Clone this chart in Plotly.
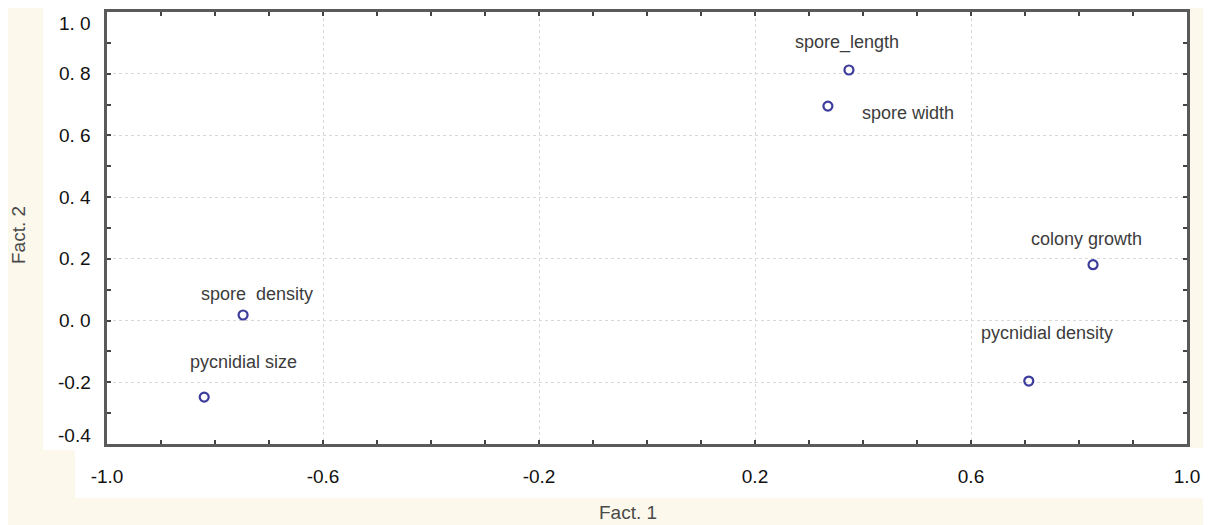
import plotly.graph_objects as go

# ---- data ----
variables = ["spore_length", "spore width", "colony growth",
             "pycnidial density", "spore  density", "pycnidial size"]
fact1 = [0.374, 0.335, 0.826, 0.707, -0.748, -0.820]
fact2 = [0.812, 0.695, 0.181, -0.196, 0.018, -0.248]

x_tickvals = [-1.0, -0.6, -0.2, 0.2, 0.6, 1.0]
x_ticktext = ["-1.0", "-0.6", "-0.2", "0.2", "0.6", "1.0"]
y_tickvals = [1.0, 0.8, 0.6, 0.4, 0.2, 0.0, -0.2, -0.4]
y_ticktext = ["1. 0", "0. 8", "0. 6", "0. 4", "0. 2", "0. 0", "-0.2", "-0.4"]

# label offsets in pixels (layout only)
label_dx = [-2, 80, -7, 18, 14, 39]
label_dy = [28, -7, 26, 48, 21, 35]
ytick_label_yshift = [-11, 0, 0, 0, 0, 0, 0, 9]

CREAM = "#fcf8ec"
FONT = "Liberation Sans, Arial, sans-serif"

fig = go.Figure()
fig.add_trace(go.Scatter(
    x=fact1, y=fact2, mode="markers",
    marker=dict(symbol="circle-open", size=9, color="#3c3c9c",
                line=dict(width=2.2, color="#3c3c9c")),
    hoverinfo="text", text=variables, showlegend=False,
))

for name, xv, yv, dx, dy in zip(variables, fact1, fact2, label_dx, label_dy):
    fig.add_annotation(x=xv, y=yv, text=name, showarrow=False,
                       xshift=dx, yshift=dy,
                       font=dict(family=FONT, size=18, color="#3c3c3c"))

axis_common = dict(
    showline=True, linecolor="#5a5a5a", linewidth=2.5, mirror="allticks",
    ticks="inside", ticklen=4, tickcolor="#444", tickwidth=1.5,
    showgrid=True, gridcolor="#d8d8d8", griddash="dot", gridwidth=1,
    zeroline=False, automargin=False,
    tickfont=dict(family=FONT, size=19, color="#111"),
)

fig.update_xaxes(
    range=[-1.0, 1.0], tickmode="array", tickvals=x_tickvals, ticktext=x_ticktext,
    minor=dict(dtick=0.1, tick0=-1.0, ticks="inside", ticklen=4, tickcolor="#444",
               showgrid=False),
    ticklabelstandoff=13,
    **axis_common,
)
fig.update_yaxes(
    range=[-0.4, 1.0], tickmode="array", tickvals=y_tickvals, ticktext=y_ticktext,
    showticklabels=False,
    minor=dict(dtick=0.1, tick0=0.0, ticks="inside", ticklen=4, tickcolor="#444",
               showgrid=False),
    **axis_common,
)

# y tick labels as annotations (edge labels sit inside the frame in the original)
for val, txt, sh in zip(y_tickvals, y_ticktext, ytick_label_yshift):
    fig.add_annotation(xref="paper", yref="y", x=(93 - 107) / 1080, y=val,
                       text=txt, showarrow=False, xanchor="right", yanchor="middle",
                       yshift=sh, font=dict(family=FONT, size=19, color="#111"))

# axis titles placed as paper annotations
fig.add_annotation(xref="paper", yref="paper", x=(628 - 107) / 1080, y=(444 - 512) / 432,
                   xanchor="center", yanchor="middle",
                   text="Fact. 1", showarrow=False,
                   font=dict(family=FONT, size=19, color="#4a4a4a"))
fig.add_annotation(xref="paper", yref="paper", x=(18 - 107) / 1080, y=(444 - 235) / 432,
                   xanchor="center", yanchor="middle",
                   text="Fact. 2", showarrow=False, textangle=-90,
                   font=dict(family=FONT, size=19, color="#4a4a4a"))

# white background panels (paper coordinates from page pixels)
def panel(x0, y0, x1, y1):
    return dict(type="rect", xref="paper", yref="paper", layer="below",
                x0=(x0 - 107) / 1080, x1=(x1 - 107) / 1080,
                y0=(444 - y1) / 432, y1=(444 - y0) / 432,
                fillcolor="white", line=dict(width=0))

fig.update_layout(
    width=1203, height=517,
    margin=dict(l=99, r=24, t=4, b=81),
    paper_bgcolor=CREAM, plot_bgcolor="white",
    shapes=[panel(43, 4, 100, 450), panel(75, 448, 1205, 498), panel(100, 4, 1190, 448)],
)

fig.write_html("out.html")
